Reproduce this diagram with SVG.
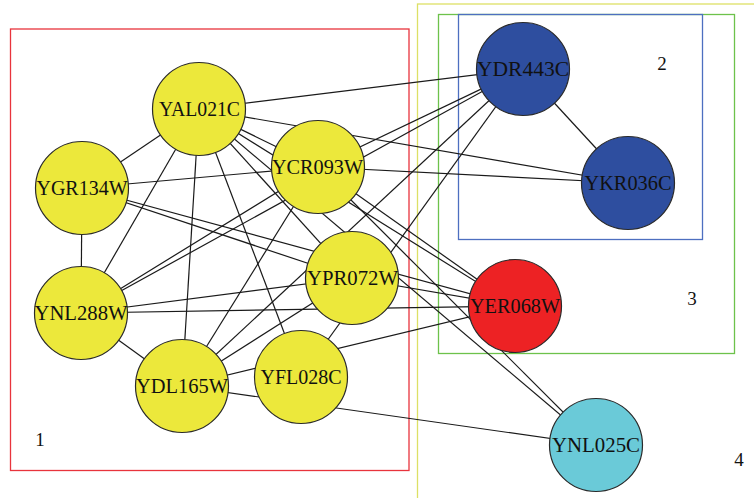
<svg xmlns="http://www.w3.org/2000/svg" width="754" height="498" viewBox="0 0 754 498">
<style>
.bg{fill:#ffffff}
.grp{fill:none;stroke-width:1.3}
.edge{stroke:#1a1a1a;stroke-width:1.2;fill:none}
.node circle{stroke:#2a2a2a;stroke-width:1.2}
.node text{font-family:"Liberation Serif","Times New Roman",serif;font-size:21px;fill:#111;text-anchor:middle}
.y circle{fill:#ECE83B}
.b circle{fill:#2E4E9F}
.r circle{fill:#ED2224}
.c circle{fill:#6ACAD8}
.num{font-family:"Liberation Serif","Times New Roman",serif;font-size:19px;fill:#111;text-anchor:middle}
</style>
<rect class="bg" x="0" y="0" width="754" height="498"/>
<g id="groups">
<rect class="grp" x="10.5" y="29" width="398.5" height="441.5" stroke="#E8343C"/>
<rect class="grp" x="417.5" y="4" width="400" height="520" stroke="#DDE066"/>
<rect class="grp" x="438.5" y="14.5" width="296" height="339" stroke="#6DC24B"/>
<rect class="grp" x="458.5" y="14.5" width="244" height="225" stroke="#4D6FC0"/>
<text class="num" x="40" y="446">1</text>
<text class="num" x="662" y="70">2</text>
<text class="num" x="692" y="305">3</text>
<text class="num" x="739" y="466">4</text>
</g>
<g id="connectors" class="edge">
<line x1="199" y1="109" x2="82" y2="188"/>
<line x1="199" y1="109" x2="81" y2="313"/>
<line x1="199" y1="109" x2="182" y2="386"/>
<line x1="199" y1="109" x2="301" y2="377"/>
<line x1="199" y1="109" x2="318" y2="167"/>
<line x1="199" y1="109" x2="352" y2="278"/>
<line x1="82" y1="188" x2="81" y2="313"/>
<line x1="82" y1="188" x2="318" y2="167"/>
<line x1="82" y1="188" x2="352" y2="278"/>
<line x1="318" y1="167" x2="81" y2="313"/>
<line x1="318" y1="167" x2="182" y2="386"/>
<line x1="81" y1="313" x2="352" y2="278"/>
<line x1="81" y1="313" x2="182" y2="386"/>
<line x1="182" y1="386" x2="352" y2="278"/>
<line x1="199" y1="109" x2="523" y2="69"/>
<line x1="199" y1="109" x2="628" y2="183"/>
<line x1="318" y1="167" x2="523" y2="69"/>
<line x1="318" y1="167" x2="628" y2="183"/>
<line x1="523" y1="69" x2="628" y2="183"/>
<line x1="523" y1="69" x2="81" y2="313"/>
<line x1="523" y1="69" x2="182" y2="386"/>
<line x1="523" y1="69" x2="301" y2="377"/>
<line x1="199" y1="109" x2="515" y2="306"/>
<line x1="318" y1="167" x2="515" y2="306"/>
<line x1="82" y1="188" x2="515" y2="306"/>
<line x1="352" y1="278" x2="515" y2="306"/>
<line x1="81" y1="313" x2="515" y2="306"/>
<line x1="182" y1="386" x2="515" y2="306"/>
<line x1="199" y1="109" x2="596" y2="445"/>
<line x1="318" y1="167" x2="596" y2="445"/>
<line x1="182" y1="386" x2="596" y2="445"/>
</g>
<g id="YAL021C" class="node y"><circle cx="199" cy="109" r="46.5"/><text x="199.5" y="116" textLength="81" lengthAdjust="spacingAndGlyphs">YAL021C</text></g>
<g id="YCR093W" class="node y"><circle cx="318" cy="167" r="46.5"/><text x="317.5" y="174" textLength="91" lengthAdjust="spacingAndGlyphs">YCR093W</text></g>
<g id="YGR134W" class="node y"><circle cx="82" cy="188" r="46.5"/><text x="82" y="195" textLength="91" lengthAdjust="spacingAndGlyphs">YGR134W</text></g>
<g id="YNL288W" class="node y"><circle cx="81" cy="313" r="46.5"/><text x="81" y="320" textLength="93" lengthAdjust="spacingAndGlyphs">YNL288W</text></g>
<g id="YPR072W" class="node y"><circle cx="352" cy="278" r="46.5"/><text x="352.5" y="285" textLength="91" lengthAdjust="spacingAndGlyphs">YPR072W</text></g>
<g id="YDL165W" class="node y"><circle cx="182" cy="386" r="46.5"/><text x="182" y="393" textLength="92" lengthAdjust="spacingAndGlyphs">YDL165W</text></g>
<g id="YFL028C" class="node y"><circle cx="301" cy="377" r="46.5"/><text x="301" y="384" textLength="81" lengthAdjust="spacingAndGlyphs">YFL028C</text></g>
<g id="YDR443C" class="node b"><circle cx="523" cy="69" r="46.5"/><text x="523" y="76" textLength="92" lengthAdjust="spacingAndGlyphs">YDR443C</text></g>
<g id="YKR036C" class="node b"><circle cx="628" cy="183" r="46.5"/><text x="628" y="190" textLength="87" lengthAdjust="spacingAndGlyphs">YKR036C</text></g>
<g id="YER068W" class="node r"><circle cx="515" cy="306" r="46.5"/><text x="515" y="313" textLength="90" lengthAdjust="spacingAndGlyphs">YER068W</text></g>
<g id="YNL025C" class="node c"><circle cx="596" cy="445" r="46.5"/><text x="596" y="452" textLength="88" lengthAdjust="spacingAndGlyphs">YNL025C</text></g>
</svg>
